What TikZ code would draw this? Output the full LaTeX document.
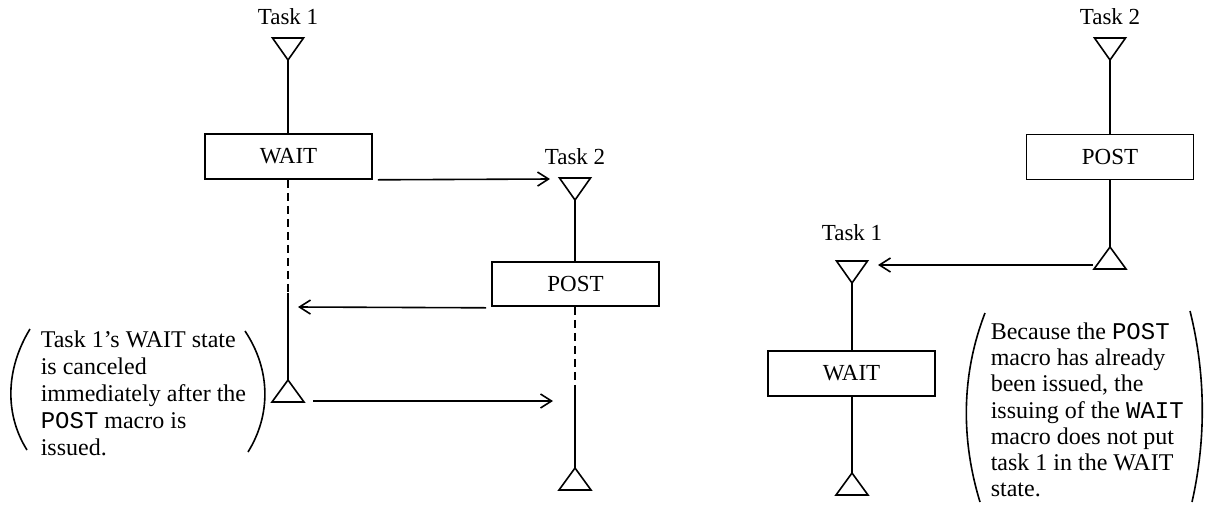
\documentclass[tikz,border=0pt]{standalone}
\usepackage{fontspec}
\setmainfont{Liberation Serif}
\setmonofont{Liberation Mono}
\usetikzlibrary{arrows.meta,calc}

\begin{document}
\begin{tikzpicture}[x=1pt,y=-1pt, line width=1.6pt,
  lbl/.style={font=\fontsize{23}{27}\selectfont, inner sep=0},
  opbox/.style={draw, minimum width=167pt, minimum height=45pt, inner sep=0,
                font=\fontsize{23}{27}\selectfont},
  msg/.style={-{Straight Barb[length=11pt,width=14pt]}},
  waitline/.style={dash pattern=on 8pt off 5pt},
  note/.style={align=left, inner sep=0, anchor=north west},
  paren/.style={line width=1.6pt},
  pics/downtri/.style={code={\draw (-15.5,-22) -- (15.5,-22) -- (0,0) -- cycle;}},
  pics/uptri/.style={code={\draw (-16,22) -- (16,22) -- (0,0) -- cycle;}},
]
\useasboundingbox (0,0) rectangle (1206,504);

% ---------- first case: WAIT issued before POST ----------
\node[lbl] (t1name) at (288,17) {Task 1};
\coordinate (t1start) at (288,60);
\pic at (t1start) {downtri};
\node[opbox] (wait1) at (288.5,156.5) {WAIT};
\coordinate (t1cut) at (288,293);
\coordinate (t1end) at (288,380);
\pic at (t1end) {uptri};
\draw (t1start) -- (t1start |- wait1.north);
\draw[waitline] (t1start |- wait1.south) -- (t1cut);
\draw (t1cut) -- (t1end);

\node[lbl] (t2name) at (575,157) {Task 2};
\coordinate (t2start) at (575,200);
\pic at (t2start) {downtri};
\node[opbox, minimum height=44pt] (post1) at (575.5,284) {POST};
\coordinate (t2cut) at (575,388);
\coordinate (t2end) at (575,468);
\pic at (t2end) {uptri};
\draw (t2start) -- (t2start |- post1.north);
\draw[waitline] (t2start |- post1.south) -- (t2cut);
\draw (t2cut) -- (t2end);

% messages between the tasks
\coordinate (m1from) at ($(wait1.south east)+(5,0)$);
\coordinate (m1to) at (550,179);
\draw[msg] (m1from) -- (m1to);
\coordinate (m2from) at ($(post1.south west)+(-5,1)$);
\coordinate (m2to) at (298,307);
\draw[msg] (m2from) -- (m2to);
\coordinate (m3from) at (313,401);
\coordinate (m3to) at (553,401);
\draw[msg] (m3from) -- (m3to);

% remark
\node[note, font=\fontsize{24}{27}\selectfont] (note1) at (40,330)
  {Task 1's WAIT state\\is canceled\\immediately after the\\\texttt{POST} macro is\\issued.};
\draw[paren] (30,329) .. controls (5,370) and (5,415) .. (27,450);
\draw[paren] (245,331) .. controls (271,370) and (271,415) .. (248,452);

% ---------- second case: POST issued before WAIT ----------
\node[lbl] (t2bname) at (1110,17) {Task 2};
\coordinate (t2bstart) at (1110,60);
\pic at (t2bstart) {downtri};
\node[opbox] (post2) at (1110,157) {POST};
\coordinate (t2bend) at (1110,247);
\pic at (t2bend) {uptri};
\draw (t2bstart) -- (t2bstart |- post2.north);
\draw (t2bstart |- post2.south) -- (t2bend);

\node[lbl] (t1bname) at (852,233) {Task 1};
\coordinate (t1bstart) at (852,283);
\pic at (t1bstart) {downtri};
\node[opbox] (wait2) at (851.5,373.5) {WAIT};
\coordinate (t1bend) at (852,473);
\pic at (t1bend) {uptri};
\draw (t1bstart) -- (t1bstart |- wait2.north);
\draw (t1bstart |- wait2.south) -- (t1bend);

\coordinate (m4from) at (1093,265);
\coordinate (m4to) at (878,265);
\draw[msg] (m4from) -- (m4to);

\node[note, font=\fontsize{24}{26.2}\selectfont] (note2) at (990,322)
  {Because the \texttt{POST}\\macro has already\\been issued, the\\issuing of the \texttt{WAIT}\\macro does not put\\task 1 in the WAIT\\state.};
\draw[paren] (985,313) .. controls (961,375) and (961,440) .. (980,502);
\draw[paren] (1190,311) .. controls (1206,375) and (1206,440) .. (1192,502);
\end{tikzpicture}
\end{document}
